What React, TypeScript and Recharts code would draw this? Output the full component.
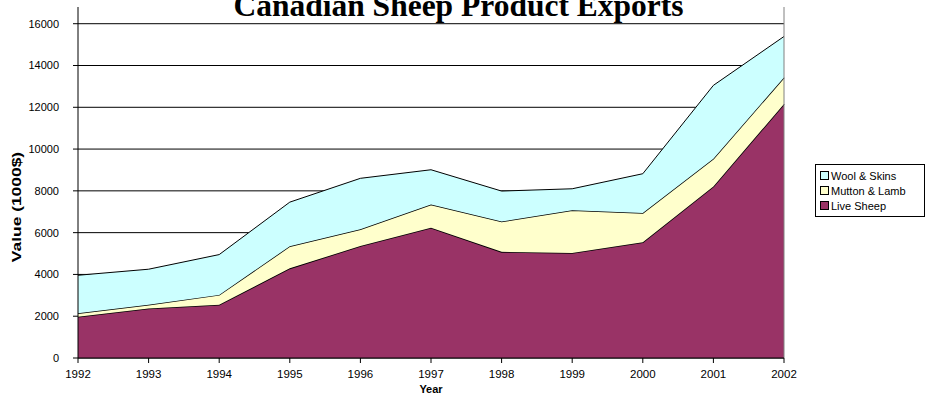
import React from "react";
import { AreaChart, Area, XAxis, YAxis, CartesianGrid, ReferenceLine } from "recharts";

const years = [1992, 1993, 1994, 1995, 1996, 1997, 1998, 1999, 2000, 2001, 2002];
const liveSheep = [1980, 2370, 2550, 4290, 5360, 6240, 5080, 5030, 5540, 8210, 12160];
const muttonLamb = [160, 180, 470, 1060, 800, 1110, 1450, 2040, 1400, 1330, 1270];
const woolSkins = [1820, 1700, 1930, 2110, 2440, 1660, 1460, 1030, 1880, 3510, 1960];
const yTicks = [0, 2000, 4000, 6000, 8000, 10000, 12000, 14000, 16000];

const seriesInfo = [
  { key: "woolSkins", name: "Wool & Skins", color: "#CCFFFF" },
  { key: "muttonLamb", name: "Mutton & Lamb", color: "#FFFFCC" },
  { key: "liveSheep", name: "Live Sheep", color: "#993366" },
];

const data = years.map((y, i) => ({
  year: y,
  liveSheep: liveSheep[i],
  muttonLamb: muttonLamb[i],
  woolSkins: woolSkins[i],
}));

const FONT = "Arial, 'Liberation Sans', sans-serif";

const LegendBox = () => (
  <div
    style={{
      position: "absolute",
      left: 815,
      top: 164,
      border: "1px solid #000",
      background: "#fff",
      padding: "3px 4px 3px 4px",
      fontFamily: FONT,
      fontSize: 11,
      width: 100,
    }}
  >
    {seriesInfo.map((s) => (
      <div key={s.key} style={{ display: "flex", alignItems: "center", height: 15 }}>
        <span
          style={{
            display: "inline-block",
            width: 7,
            height: 7,
            border: "1px solid #000",
            background: s.color,
            marginRight: 2,
          }}
        />
        <span>{s.name}</span>
      </div>
    ))}
  </div>
);

export default function App() {
  return (
    <div style={{ position: "absolute", left: 0, top: 0, width: 931, height: 406, overflow: "hidden", background: "#fff" }}>
      <AreaChart width={931} height={406} data={data} margin={{ top: 7, right: 147, bottom: 0, left: 0 }}>
        <CartesianGrid vertical={false} horizontalValues={yTicks} stroke="#000" strokeWidth={1} />
        <XAxis
          dataKey="year"
          type="number"
          domain={[1992, 2002]}
          ticks={years}
          height={48}
          tick={{ fontSize: 11.5, fill: "#000", fontFamily: FONT }}
          tickLine={{ stroke: "#000" }}
          axisLine={{ stroke: "#000" }}
          tickSize={5}
          tickMargin={7}
          interval={0}
        />
        <YAxis
          type="number"
          domain={[0, 16800]}
          ticks={yTicks}
          width={78}
          tick={{ fontSize: 11, fill: "#000", fontFamily: FONT }}
          tickLine={{ stroke: "#000" }}
          axisLine={{ stroke: "#000" }}
          tickSize={5}
          tickMargin={14}
          interval={0}
        />
        <Area
          type="linear"
          dataKey="liveSheep"
          name="Live Sheep"
          stackId="a"
          fill="#993366"
          fillOpacity={1}
          stroke="#000"
          strokeWidth={1.6}
          isAnimationActive={false}
        />
        <Area
          type="linear"
          dataKey="muttonLamb"
          name="Mutton & Lamb"
          stackId="a"
          fill="#FFFFCC"
          fillOpacity={1}
          stroke="#000"
          strokeWidth={1.5}
          isAnimationActive={false}
        />
        <Area
          type="linear"
          dataKey="woolSkins"
          name="Wool & Skins"
          stackId="a"
          fill="#CCFFFF"
          fillOpacity={1}
          stroke="#000"
          strokeWidth={1}
          isAnimationActive={false}
        />
        <ReferenceLine x={2002} stroke="#808080" strokeWidth={1} />
      </AreaChart>
      <div
        style={{
          position: "absolute",
          left: 0,
          width: 931,
          top: -11,
          textAlign: "center",
          fontFamily: "'Liberation Serif', 'Times New Roman', serif",
          fontWeight: "bold",
          fontSize: 31.5,
          lineHeight: "34px",
        }}
      >
        <span style={{ position: "relative", left: -7 }}>Canadian Sheep Product Exports</span>
      </div>
      <LegendBox />
      <div
        style={{
          position: "absolute",
          left: 17,
          top: 207,
          transform: "translate(-50%, -50%) rotate(-90deg) scaleX(1.45)",
          fontFamily: FONT,
          fontWeight: "bold",
          fontSize: 12,
          whiteSpace: "nowrap",
        }}
      >
        Value (1000$)
      </div>
      <div
        style={{
          position: "absolute",
          left: 431,
          top: 389,
          transform: "translate(-50%, -50%)",
          fontFamily: FONT,
          fontWeight: "bold",
          fontSize: 11,
          whiteSpace: "nowrap",
        }}
      >
        Year
      </div>
    </div>
  );
}
